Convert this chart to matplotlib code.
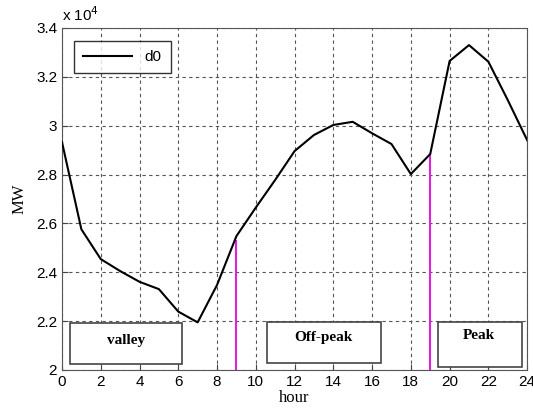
import numpy as np
import matplotlib
matplotlib.use('Agg')
import matplotlib.pyplot as plt
import matplotlib.patches as patches
from matplotlib.ticker import FuncFormatter

horas = list(range(25))
carga = [29330, 25760, 24540, 24050, 23610, 23310, 22390, 21950, 23480, 25480,
         26650, 27780, 28960, 29620, 30030, 30160, 29690, 29250, 28020, 28840,
         32650, 33300, 32620, 31050, 29410]

# limites das zonas (hora)
inicio_offpeak = 9
inicio_peak = 19

plt.rcParams['font.family'] = ['Liberation Sans', 'DejaVu Sans']

fig = plt.figure(figsize=(5.33, 4.16), dpi=100)
ax = fig.add_axes([0.1163, 0.1106, 0.8727, 0.8221])

ax.plot(horas, carga, color='black', linewidth=1.5, label='d0', zorder=3)

# linhas magenta ate a curva
ax.plot([inicio_offpeak, inicio_offpeak], [20000, 25290], color='#e020e0', linewidth=1.5, zorder=2)
ax.plot([inicio_peak, inicio_peak], [20000, carga[inicio_peak]], color='#e020e0', linewidth=1.5, zorder=2)

ax.set_xlim(0, 24)
ax.set_ylim(20000, 34000)
ax.set_xticks(range(0, 25, 2))
ax.set_yticks(np.arange(20000, 34001, 2000))
ax.yaxis.set_major_formatter(FuncFormatter(lambda v, p: '%g' % round(v / 1e4, 2)))
ax.grid(True, linestyle=(0, (3, 3)), color='#555555', linewidth=0.8)
ax.tick_params(direction='in', labelsize=11, length=4, color='#444444')
for s in ax.spines.values():
    s.set_color('#555555')

ax.text(0, 1.012, 'x 10$^{4}$', transform=ax.transAxes, fontsize=11, va='bottom', ha='left')

ax.set_xlabel('hour', fontsize=12, family='Liberation Serif', labelpad=1)
ax.set_ylabel('MW', fontsize=12, family='Liberation Serif', labelpad=6)

leg = ax.legend(loc='upper left', fontsize=11, fancybox=False, edgecolor='black',
                handlelength=3.2, borderpad=0.6, bbox_to_anchor=(0.01, 0.985))
leg.get_frame().set_linewidth(1.0)

caixas = [('valley', 0.43, 6.18, 20240, 21920, 3.3, 21220),
          ('Off-peak', 10.56, 16.47, 20280, 21950, 13.5, 21320),
          ('Peak', 19.39, 23.73, 20110, 21980, 21.5, 21400)]
for nome, x0, x1, y0, y1, tx, ty in caixas:
    r = patches.Rectangle((x0, y0), x1 - x0, y1 - y0, facecolor='white',
                          edgecolor='#444444', linewidth=1.2, zorder=4)
    ax.add_patch(r)
    ax.text(tx, ty, nome, ha='center', va='center', fontsize=11, fontweight='bold',
            family='Liberation Serif', zorder=5)

plt.savefig('out.png', dpi=100)
